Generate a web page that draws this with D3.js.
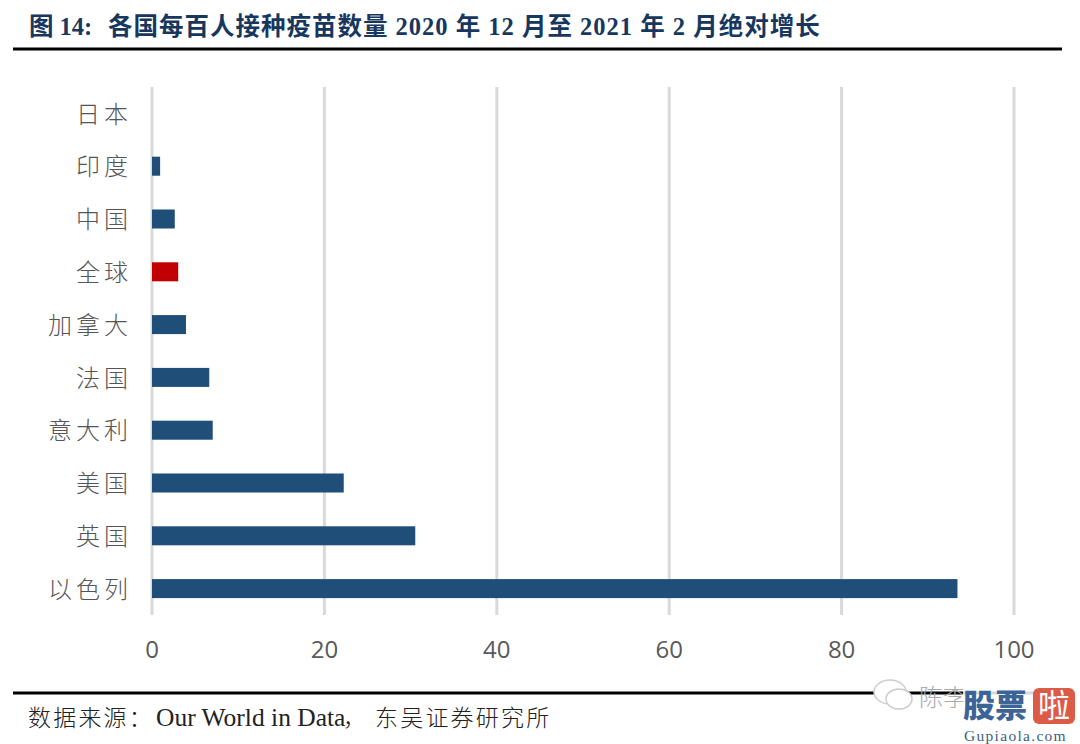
<!DOCTYPE html>
<html>
<head>
<meta charset="utf-8">
<script src="https://cdn.jsdelivr.net/npm/d3@7"></script>
<style>
  html, body { margin: 0; padding: 0; background: #fff; }
  svg { display: block; }
  .head { font-family: "Liberation Serif", "Noto Sans CJK SC", serif; font-weight: bold; font-size: 24.5px; fill: #17375e; }
  .source { font-family: "Liberation Serif", "Noto Sans CJK SC", serif; font-size: 25.5px; fill: #222; }
  .source .cjk { font-family: "Noto Sans CJK SC", sans-serif; font-size: 23px; letter-spacing: 2.2px; font-weight: 300; }
  .cat text { font-family: "Noto Sans CJK SC", sans-serif; font-size: 24px; font-weight: 300; fill: #555; letter-spacing: 4px; }
  .val text { font-family: "Open Sans", sans-serif; font-size: 24px; fill: #595959; }
  .val line { stroke: #d9d9d9; stroke-width: 3px; }
</style>
</head>
<body>
<script>
var width = 1080,
    height = 744;

var categories = ["日本", "印度", "中国", "全球", "加拿大", "法国", "意大利", "美国", "英国", "以色列"];
var values = [0, 1.0, 2.7, 3.1, 4.0, 6.7, 7.1, 22.3, 30.6, 93.5];
var highlight = ["全球"];
var xTicks = [0, 20, 40, 60, 80, 100];

var titleHead = "图 14:";
var titleBody = "各国每百人接种疫苗数量 2020 年 12 月至 2021 年 2 月绝对增长";
var sourceParts = ["数据来源\uFF1A", "Our World in Data", "\uFF0C", "东吴证券研究所"];

var svg = d3.select("body").append("svg")
    .attr("width", width)
    .attr("height", height);

var x = d3.scaleLinear().domain([0, 100]).range([151.5, 1013.5]);
var y = d3.scaleBand().domain(categories).range([87, 615]).paddingInner(0.64).paddingOuter(0.32);

svg.append("text").attr("class", "head").attr("x", 29).attr("y", 35).text(titleHead);
svg.append("text").attr("class", "head").attr("x", 108).attr("y", 35)
    .style("letter-spacing", "1px").text(titleBody);

svg.append("rect").attr("x", 13).attr("y", 47.5).attr("width", 1049).attr("height", 3).attr("fill", "#000");
svg.append("rect").attr("x", 13).attr("y", 691.5).attr("width", 1049).attr("height", 3).attr("fill", "#000");

// value axis, the long ticks are the grid lines
var xAxis = svg.append("g")
    .attr("class", "val")
    .attr("transform", "translate(0,615)")
    .call(d3.axisBottom(x).tickValues(xTicks).tickSize(-528).tickPadding(26).tickFormat(d3.format("d")));
xAxis.select(".domain").remove();

svg.append("g")
    .selectAll("rect")
    .data(categories)
    .enter().append("rect")
    .attr("x", x(0) + 0.5)
    .attr("y", function(d) { return y(d); })
    .attr("width", function(d, i) { return x(values[i]) - x(0) - (values[i] > 0 ? 0.5 : 0); })
    .attr("height", y.bandwidth())
    .attr("fill", function(d) { return highlight.indexOf(d) >= 0 ? "#c00000" : "#1f4e79"; });

var yAxis = svg.append("g")
    .attr("class", "cat")
    .attr("transform", "translate(132,1.5)")
    .call(d3.axisLeft(y).tickSize(0).tickPadding(0));
yAxis.select(".domain").remove();

var src = svg.append("text").attr("class", "source").attr("y", 726);
src.append("tspan").attr("class", "cjk").attr("x", 28).text(sourceParts[0]);
src.append("tspan").attr("x", 156).text(sourceParts[1]);
src.append("tspan").attr("class", "cjk").attr("x", 343).text(sourceParts[2]);
src.append("tspan").attr("class", "cjk").attr("x", 375).text(sourceParts[3]);

// watermark
var mark = svg.append("g");
mark.append("ellipse").attr("cx", 890).attr("cy", 692).attr("rx", 16).attr("ry", 12)
    .attr("fill", "#fff").attr("stroke", "#ccc").attr("stroke-width", 1.5);
mark.append("ellipse").attr("cx", 899).attr("cy", 699).attr("rx", 13).attr("ry", 10)
    .attr("fill", "#fff").attr("stroke", "#ccc").attr("stroke-width", 1.5);
mark.append("text").attr("x", 919).attr("y", 706)
    .style("font-family", "'Noto Sans CJK SC', sans-serif").style("font-size", "24px").style("font-weight", 300)
    .attr("fill", "#aaa").text("陈李");
mark.append("rect").attr("x", 963).attr("y", 686).attr("width", 117).attr("height", 58).attr("fill", "#fff").attr("fill-opacity", 0.85);
mark.append("text").attr("x", 963).attr("y", 717)
    .style("font-family", "'Noto Sans CJK SC', sans-serif").style("font-size", "32px").style("font-weight", 900)
    .attr("fill", "#3d6496").text("股票");
mark.append("rect").attr("x", 1033).attr("y", 688).attr("width", 42).attr("height", 36).attr("rx", 6).attr("fill", "#dc5b47");
mark.append("text").attr("x", 1054).attr("y", 717).attr("text-anchor", "middle")
    .style("font-family", "'Noto Sans CJK SC', sans-serif").style("font-size", "32px").style("font-weight", 400)
    .attr("fill", "#fff").text("啦");
mark.append("text").attr("x", 964).attr("y", 741)
    .style("font-family", "'Liberation Serif', serif").style("font-size", "15.5px").style("letter-spacing", "1.3px")
    .attr("fill", "#3d5f80").text("Gupiaola.com");
</script>
</body>
</html>
